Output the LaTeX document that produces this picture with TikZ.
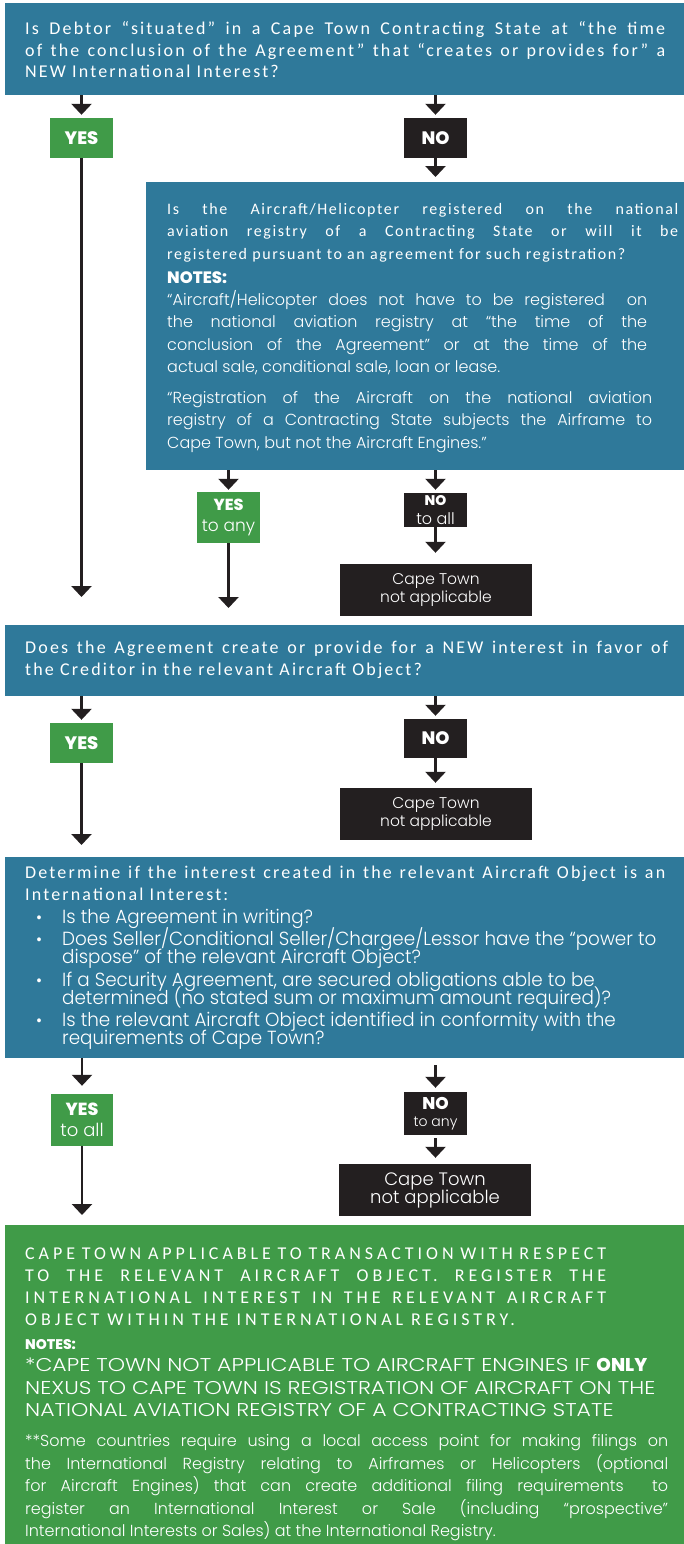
\documentclass[tikz,border=0pt]{standalone}
\usepackage{fontspec}
\setmainfont{Carlito}
\newfontfamily\hdfont{Carlito}[LetterSpace=12]
\newfontfamily\capfont{Carlito}[LetterSpace=22]
\newfontfamily\qfont{Carlito}[LetterSpace=10]
\newfontfamily\gothic{Poppins}[UprightFont=* Light, BoldFont=* ExtraBold]
\newfontfamily\gothicn{Poppins}[UprightFont=* Light, BoldFont=* ExtraBold, FakeStretch=0.965]
\newfontfamily\gothicw{Poppins}[UprightFont=* Light, BoldFont=* ExtraBold, FakeStretch=1.19]
\usetikzlibrary{shapes,arrows.meta}
\setlength{\parindent}{0pt}
\normallineskiplimit=-20pt
\lineskiplimit=-20pt
\definecolor{ctblue}{RGB}{47,121,154}
\definecolor{ctgreen}{RGB}{64,155,72}
\definecolor{ctblack}{RGB}{35,31,32}
\newcommand{\firstl}{\rule{0pt}{16pt}}
\newcommand{\bul}[1]{\par\hangindent=37pt\hangafter=1\noindent\hspace*{11pt}\makebox[26pt][l]{\fontsize{17}{17}\selectfont\textbullet}#1}
\tikzstyle{question} = [rectangle, fill=ctblue, anchor=north west, inner sep=0pt]
\tikzstyle{result} = [rectangle, fill=ctgreen, anchor=north west, inner sep=0pt]
\tikzstyle{yesbox} = [rectangle, fill=ctgreen, text=white, minimum width=63pt, inner sep=0pt, align=center]
\tikzstyle{nobox} = [rectangle, fill=ctblack, text=white, minimum width=63pt, inner sep=0pt, align=center]
\tikzstyle{nabox} = [rectangle, fill=ctblack, text=white, minimum width=192pt, minimum height=52pt, inner sep=0pt, align=center]
\tikzstyle{txt} = [anchor=north west, inner sep=0pt, text=white, align=justify]
\tikzstyle{arrow} = [line width=2.6pt, draw=ctblack, -{Triangle[width=20pt,length=11pt]}]
\begin{document}
\begin{tikzpicture}[x=1pt,y=-1pt]
\useasboundingbox (0,0) rectangle (684,1544);

% question and result boxes
\node (q1) [question, minimum width=679pt, minimum height=92pt] at (5,3) {};
\node (q2) [question, minimum width=538pt, minimum height=288pt] at (146,182) {};
\node (q3) [question, minimum width=679pt, minimum height=71pt] at (5,625) {};
\node (q4) [question, minimum width=679pt, minimum height=201pt] at (5,857) {};
\node (res) [result, minimum width=679pt, minimum height=319pt] at (5,1225) {};

\node (q1txt) [txt, text width=640pt, font=\hdfont\fontsize{18}{21.7}\selectfont] at (25,18.3) {\firstl Is Debtor “situated” in a Cape Town Contracting State at “the time\linebreak of the conclusion of the Agreement” that “creates or provides for” a\linebreak NEW International Interest?};

\node (q2txt) [txt, text width=511pt, font=\qfont\fontsize{16}{22.5}\selectfont] at (167,198) {\firstl Is the Aircraft/Helicopter registered on the national\linebreak aviation registry of a Contracting State or will it be\linebreak registered pursuant to an agreement for such registration?\par
{\gothic\bfseries\fontsize{16.5}{24}\selectfont NOTES:\par}
{\gothic\fontsize{16}{22.3}\selectfont \rightskip=31pt “Aircraft/Helicopter does not have to be registered\ \ on\linebreak the national aviation registry at “the time of the\linebreak conclusion of the Agreement” or at the time of the\linebreak actual sale, conditional sale, loan or lease.\par
\vspace{8.7pt}\rightskip=26pt “Registration of the Aircraft on the national aviation\linebreak registry of a Contracting State subjects the Airframe to\linebreak Cape Town, but not the Aircraft Engines.”\par}};

\node (q3txt) [txt, text width=643pt, font=\hdfont\fontsize{18}{21.7}\selectfont] at (25,637.3) {\firstl Does the Agreement create or provide for a NEW interest in favor of\linebreak the Creditor in the relevant Aircraft Object?};

\node (q4txt) [txt, text width=640pt, font=\hdfont\fontsize{18}{22.7}\selectfont] at (25,862) {\firstl Determine if the interest created in the relevant Aircraft Object is an\linebreak International Interest:\par
{\gothicn\fontsize{19}{18}\selectfont \lineskiplimit=-20pt \parskip=4.5pt
\bul{Is the Agreement in writing?}
\bul{Does Seller/Conditional Seller/Chargee/Lessor have the “power to\newline dispose” of the relevant Aircraft Object?}
\bul{If a Security Agreement, are secured obligations able to be\newline determined (no stated sum or maximum amount required)?}
\bul{Is the relevant Aircraft Object identified in conformity with the\newline requirements of Cape Town?}\par}};

\node (restxt) [txt, text width=643pt, font=\capfont\fontsize{18}{22}\selectfont] at (25,1243) {{\rightskip=62pt \firstl CAPE TOWN APPLICABLE TO TRANSACTION WITH RESPECT\linebreak TO THE RELEVANT AIRCRAFT OBJECT. REGISTER THE\linebreak INTERNATIONAL INTEREST IN THE RELEVANT AIRCRAFT\linebreak OBJECT WITHIN THE INTERNATIONAL REGISTRY.\par}
{\gothic\bfseries\fontsize{14}{24}\selectfont NOTES:\par}
{\gothicw\fontsize{18.5}{22.5}\selectfont *CAPE TOWN NOT APPLICABLE TO AIRCRAFT ENGINES IF {\gothic\bfseries ONLY}\newline NEXUS TO CAPE TOWN IS REGISTRATION OF AIRCRAFT ON THE\newline NATIONAL AVIATION REGISTRY OF A CONTRACTING STATE\par}
{\gothic\fontsize{16}{22.5}\selectfont \vspace{7.5pt}**Some countries require using a local access point for making filings on\linebreak the International Registry relating to Airframes or Helicopters (optional\linebreak for Aircraft Engines) that can create additional filing requirements\ \ to\linebreak register an International Interest or Sale (including “prospective”\linebreak International Interests or Sales) at the International Registry.\par}};

% answer boxes
\node (yes1) [yesbox, minimum height=40pt, font=\gothic\bfseries\fontsize{18}{18}\selectfont] at (81.5,138) {YES};
\node (no1) [nobox, minimum height=40pt, font=\gothic\bfseries\fontsize{18}{18}\selectfont] at (435.5,138) {NO};
\node (yes2) [yesbox, minimum height=51pt, font=\gothic\fontsize{17}{21}\selectfont] at (228.5,517.5) {{\bfseries\fontsize{16}{16}\selectfont YES}\\to any};
\node (no2) [nobox, minimum height=34pt, font=\gothic\fontsize{16}{19}\selectfont] at (435.5,510) {{\bfseries\fontsize{14}{14}\selectfont NO}\\to all};
\node (na1) [nabox, font=\gothic\fontsize{15.5}{18}\selectfont] at (436,590) {Cape Town\\not applicable};
\node (yes3) [yesbox, minimum height=40pt, font=\gothic\bfseries\fontsize{18}{18}\selectfont] at (81.5,743) {YES};
\node (no3) [nobox, minimum height=39pt, font=\gothic\bfseries\fontsize{18}{18}\selectfont] at (435.5,738.5) {NO};
\node (na2) [nabox, font=\gothic\fontsize{15.5}{18}\selectfont] at (436,814) {Cape Town\\not applicable};
\node (yes4) [yesbox, minimum width=62pt, minimum height=52pt, font=\gothic\fontsize{18}{20.7}\selectfont] at (82,1120) {{\bfseries\fontsize{17.5}{17.5}\selectfont YES}\\to all};
\node (no4) [nobox, minimum height=43pt, font=\gothic\fontsize{14}{17}\selectfont] at (435.5,1113.5) {{\bfseries\fontsize{17}{17}\selectfont NO}\\to any};
\node (na3) [nabox, font=\gothic\fontsize{18}{18}\selectfont] at (435,1190) {Cape Town\\not applicable};

% connectors
\draw [arrow, shorten >=3pt] (yes1.north |- q1.south) -- (yes1);
\draw [arrow, shorten >=3pt] (no1.north |- q1.south) -- (no1);
\draw [arrow, shorten >=5pt] (no1) -- (no1.south |- q2.north);
\draw [arrow, shorten >=28pt] (yes1) -- (yes1.south |- q3.north);
\draw [arrow, shorten >=2pt] (yes2.north |- q2.south) -- (yes2);
\draw [arrow, shorten >=3pt] (no2.north |- q2.south) -- (no2);
\draw [arrow, shorten >=11pt] (no2) -- (no2.south |- na1.north);
\draw [arrow, shorten >=17pt] (yes2) -- (yes2.south |- q3.north);
\draw [arrow, shorten >=3pt] (yes3.north |- q3.south) -- (yes3);
\draw [arrow, shorten >=3pt] (no3.north |- q3.south) -- (no3);
\draw [arrow, shorten >=5pt] (no3) -- (no3.south |- na2.north);
\draw [arrow, shorten >=12pt] (yes3) -- (yes3.south |- q4.north);
\draw [arrow, shorten >=8pt] (yes4.north |- q4.south) -- (yes4);
\draw [arrow, shorten <=7pt, shorten >=4pt] (no4.north |- q4.south) -- (no4);
\draw [arrow, shorten <=3pt, shorten >=6pt] (no4) -- (no4.south |- na3.north);
\draw [arrow, shorten >=10pt] (yes4) -- (yes4.south |- res.north);
\end{tikzpicture}
\end{document}
